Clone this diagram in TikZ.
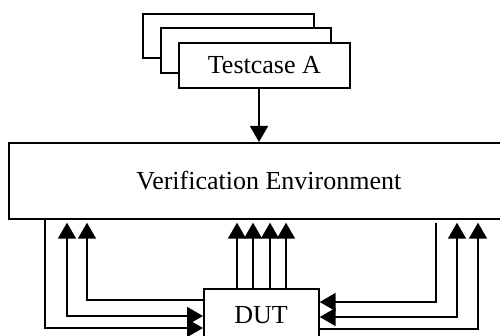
\documentclass[tikz,border=0pt]{standalone}
\usepackage{fontspec}
\setmainfont{Liberation Serif}
\usetikzlibrary{arrows.meta}
\begin{document}
\begin{tikzpicture}[x=1pt,y=-1pt,
  box/.style={draw,line width=1.7pt,fill=white,inner sep=0pt,anchor=north west},
  wire/.style={line width=1.6pt},
  tip/.tip={Triangle[width=18pt,length=16pt]},
  every node/.style={font=\fontsize{26}{30}\selectfont}]
\useasboundingbox (0,0) rectangle (500,336);
\clip (0,0) rectangle (500,336);

% stacked test cases
\node[box,minimum width=171pt,minimum height=44pt] (tc1) at (142,13) {};
\node[box,minimum width=170pt,minimum height=45pt] (tc2) at (160,27) {};
\node[box,minimum width=171pt,minimum height=45pt] (tc3) at (178,42) {Testcase A};

% verification environment (runs past the right edge)
\node[box,minimum width=520pt,minimum height=76pt] (ve) at (8,142) {Verification Environment};

% device under test (runs past the bottom edge)
\node[box,minimum width=115pt,minimum height=54pt,anchor=north west] (dut) at (203,288) {};
\node (duttxt) at (261,315) {DUT};

% lane positions
\coordinate (tcx) at (259,0);
\coordinate (l1) at (45,328);
\coordinate (l2) at (67,316);
\coordinate (l3) at (87,300);
\coordinate (m1) at (237,0);
\coordinate (m2) at (253,0);
\coordinate (m3) at (270,0);
\coordinate (m4) at (286,0);
\coordinate (r1) at (436,302);
\coordinate (r2) at (457,317);
\coordinate (r3) at (478,329);

% test case drives the environment
\draw[wire,-tip] (tcx |- tc3.south) -- (tcx |- ve.north);

% left side lanes
\draw[wire,-tip] (l1 |- ve.south) |- (l1 -| dut.west);
\draw[wire,tip-tip,shorten <=3pt] (l2 |- ve.south) |- (l2 -| dut.west);
\draw[wire,tip-,shorten <=3pt] (l3 |- ve.south) |- (l3 -| dut.west);

% outputs from the top of the DUT
\foreach \m in {m1,m2,m3,m4}
  \draw[wire,-tip,shorten >=3pt] (\m |- dut.north) -- (\m |- ve.south);

% right side lanes
\draw[wire,-tip,shorten <=3pt] (r1 |- ve.south) |- (r1 -| dut.east);
\draw[wire,tip-tip,shorten <=3pt] (r2 |- ve.south) |- (r2 -| dut.east);
\draw[wire,tip-,shorten <=3pt] (r3 |- ve.south) |- (r3 -| dut.east);
\end{tikzpicture}
\end{document}
